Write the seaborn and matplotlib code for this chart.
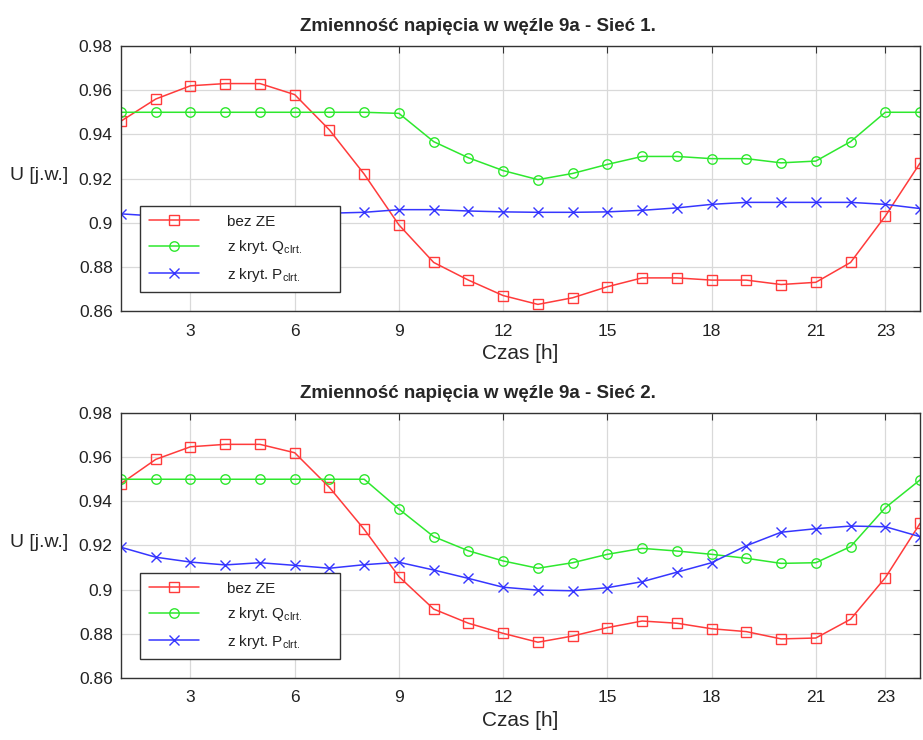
import matplotlib
matplotlib.use("Agg")
import matplotlib.pyplot as plt
import seaborn as sns
import pandas as pd
from matplotlib.ticker import FormatStrFormatter

hours = list(range(1, 25))

# Sieć 1
s1_bez_ze = [0.946, 0.956, 0.962, 0.963, 0.963, 0.958, 0.942, 0.922, 0.899, 0.882, 0.874, 0.867,
             0.863, 0.866, 0.871, 0.875, 0.875, 0.874, 0.874, 0.872, 0.873, 0.882, 0.903, 0.927]
s1_q = [0.950, 0.950, 0.950, 0.950, 0.950, 0.950, 0.950, 0.950, 0.9495, 0.9367, 0.9294, 0.9236,
        0.9195, 0.9223, 0.9264, 0.9300, 0.9300, 0.9290, 0.9290, 0.9271, 0.9279, 0.9367, 0.950, 0.950]
s1_p = [0.904, 0.903, 0.903, 0.903, 0.903, 0.903, 0.9043, 0.9047, 0.9059, 0.9059, 0.9053, 0.9049,
        0.9047, 0.9047, 0.9049, 0.9056, 0.9067, 0.9083, 0.9092, 0.9092, 0.9092, 0.9092, 0.9083, 0.9064]

# Sieć 2
s2_bez_ze = [0.948, 0.959, 0.9647, 0.9658, 0.9658, 0.962, 0.9463, 0.9273, 0.9059, 0.8912, 0.8848, 0.8802,
             0.8762, 0.879, 0.8828, 0.8858, 0.8848, 0.8823, 0.881, 0.8777, 0.8781, 0.8866, 0.9054, 0.930]
s2_q = [0.950, 0.950, 0.950, 0.950, 0.950, 0.950, 0.950, 0.950, 0.9365, 0.924, 0.9176, 0.913,
        0.9097, 0.9122, 0.916, 0.9187, 0.9175, 0.916, 0.9142, 0.9119, 0.9122, 0.9195, 0.9371, 0.9497]
s2_p = [0.9192, 0.9147, 0.9125, 0.9112, 0.9122, 0.911, 0.9097, 0.9113, 0.9124, 0.9089, 0.9051, 0.9011,
        0.8998, 0.8995, 0.9009, 0.9036, 0.9079, 0.9122, 0.9199, 0.926, 0.9276, 0.9288, 0.9285, 0.924]

titles = ["Zmienność napięcia w węźle 9a - Sieć 1.", "Zmienność napięcia w węźle 9a - Sieć 2."]
labels = ["bez ZE", r"z kryt. Q$_{\mathrm{clrt.}}$", r"z kryt. P$_{\mathrm{clrt.}}$"]
xticks = [3, 6, 9, 12, 15, 18, 21, 23]
yticks = [0.86, 0.88, 0.90, 0.92, 0.94, 0.96, 0.98]

sns.set_style("white")
plt.rcParams['font.family'] = ['Liberation Sans', 'DejaVu Sans']
plt.rcParams['mathtext.fontset'] = 'custom'
plt.rcParams['mathtext.rm'] = 'Liberation Sans'
plt.rcParams['mathtext.it'] = 'Liberation Sans'

fig = plt.figure(figsize=(9.23, 7.40), dpi=100)
ax1 = fig.add_axes([0.1311, 0.5797, 0.8657, 0.3581])
ax2 = fig.add_axes([0.1311, 0.0838, 0.8657, 0.3581])

colors = ["#ff3b3b", "#2ee82e", "#3636ff"]
markers = ["s", "o", "x"]

for ax, title, series in [(ax1, titles[0], [s1_bez_ze, s1_q, s1_p]),
                          (ax2, titles[1], [s2_bez_ze, s2_q, s2_p])]:
    for vals, lab, col, mk in zip(series, labels, colors, markers):
        df = pd.DataFrame({"h": hours, "u": vals})
        kw = dict(marker=mk, markeredgewidth=1.0)
        if mk != "x":
            kw.update(markerfacecolor="none", markeredgecolor=col, markersize=6.8)
        else:
            kw.update(markeredgecolor=col, markersize=7.5)
        sns.lineplot(data=df, x="h", y="u", ax=ax, color=col, linewidth=1.1, label=lab, **kw)
    ax.set_xlim(1, 24)
    ax.set_ylim(0.86, 0.98)
    ax.set_xticks(xticks)
    ax.set_yticks(yticks)
    ax.yaxis.set_major_formatter(FormatStrFormatter('%g'))
    ax.grid(True, color="#d9d9d9", linewidth=0.9)
    ax.tick_params(direction="in", top=True, right=True, length=5, labelsize=12.5,
                   color="#333333", labelcolor="#222222")
    ax.tick_params(axis="x", pad=9)
    ax.tick_params(axis="y", pad=6)
    for sp in ax.spines.values():
        sp.set_color("#333333")
        sp.set_linewidth(1.0)
    ax.set_title(title, fontsize=13.5, fontweight="bold", pad=11, x=0.447)
    ax.set_xlabel("Czas [h]", fontsize=15, labelpad=4)
    ax.set_ylabel("U [j.w.]", fontsize=14, rotation=0, labelpad=8, va="center", ha="left")
    ax.yaxis.set_label_coords(-0.139, 0.51)
    leg = ax.legend(loc="lower left", bbox_to_anchor=(0.024, 0.072, 0.2503, 0.3), mode="expand",
                    borderaxespad=0, fontsize=11, handlelength=3.3, handletextpad=1.8,
                    labelspacing=0.62, fancybox=False, framealpha=1, edgecolor="#333333",
                    borderpad=0.55)
    leg.get_frame().set_linewidth(1.0)
    for t in leg.get_texts():
        t.set_color("#222222")

fig.savefig("out.png", dpi=100)
